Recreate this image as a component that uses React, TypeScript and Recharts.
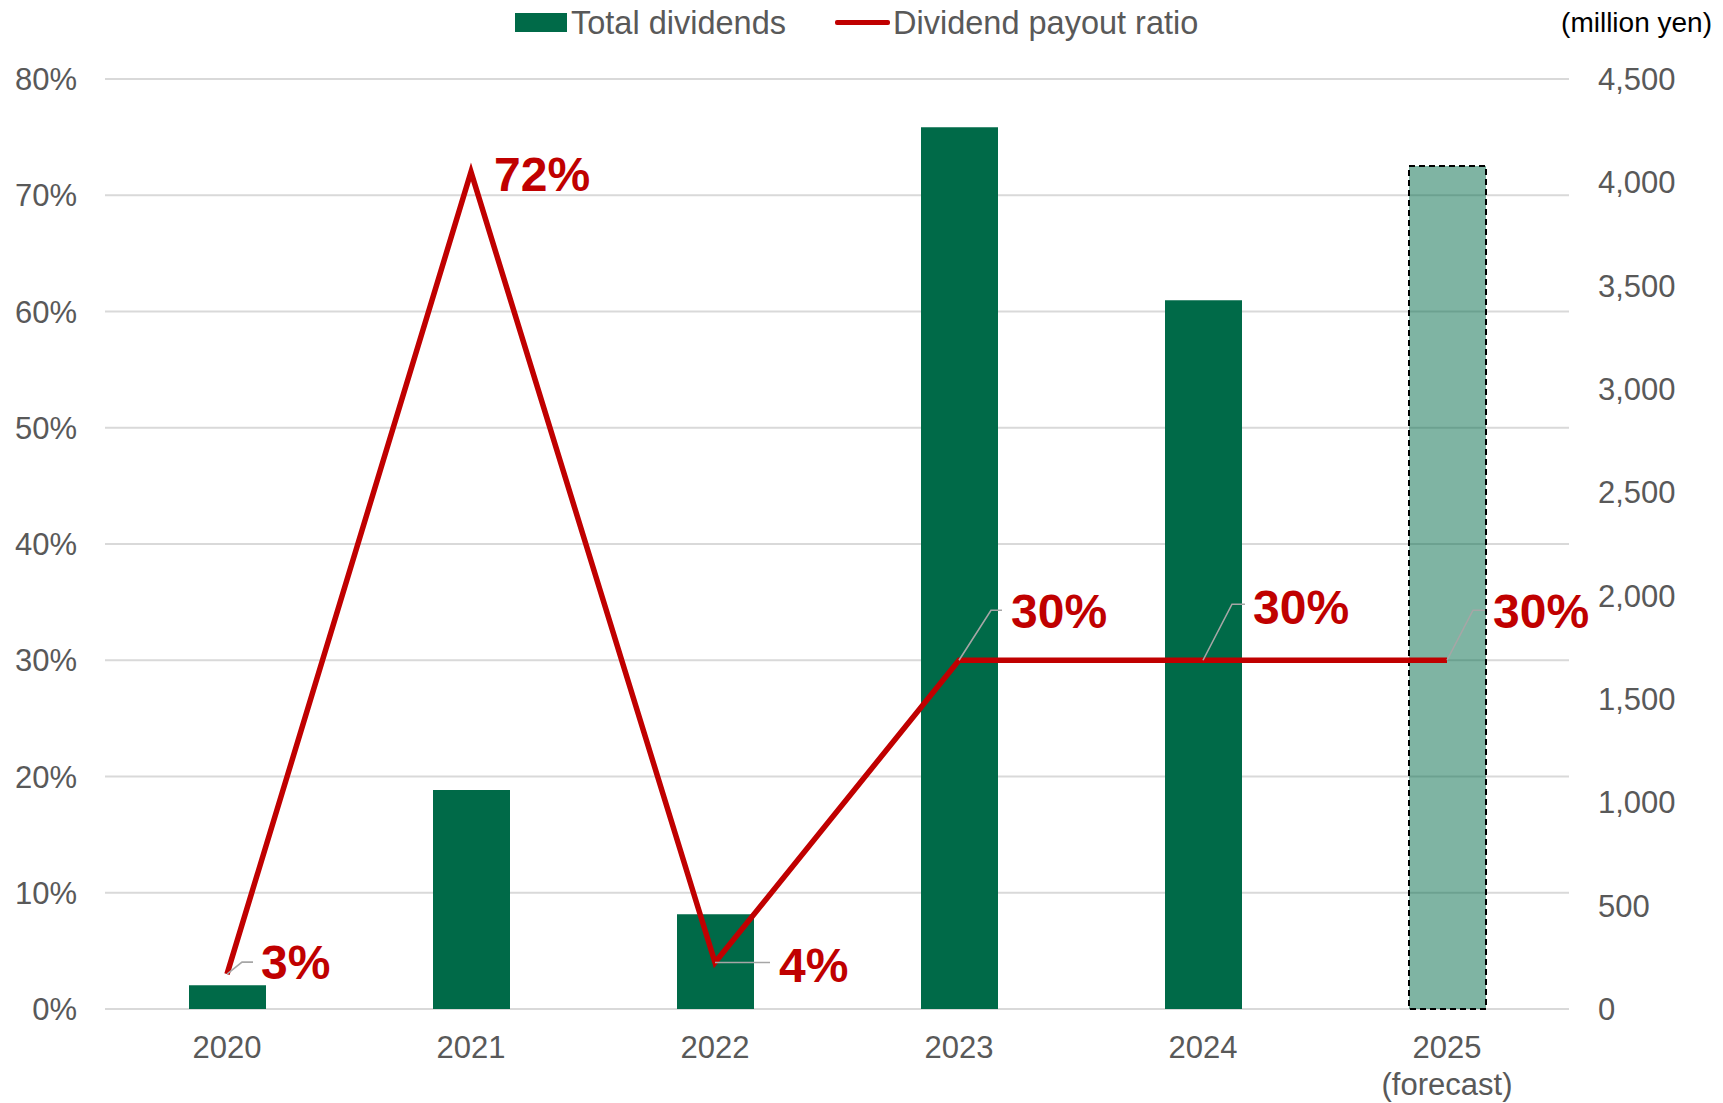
import React from 'react';
import { ComposedChart, Bar, Line, XAxis, YAxis, CartesianGrid, Legend, Cell, LabelList } from 'recharts';

const categories = ['2020', '2021', '2022', '2023', '2024', '2025\n(forecast)'];
const totalDividends = [115, 1060, 458, 4266, 3429, 4079];
const payoutRatio = [3, 72, 4, 30, 30, 30];
const isForecast = [false, false, false, false, false, true];
const leftTicks = [0, 10, 20, 30, 40, 50, 60, 70, 80];
const rightTicks = [0, 500, 1000, 1500, 2000, 2500, 3000, 3500, 4000, 4500];

const data = categories.map((c, i) => ({
  year: c,
  dividends: totalDividends[i],
  ratio: payoutRatio[i],
  forecast: isForecast[i],
}));

const FONT = '"Liberation Sans", Arial, sans-serif';
const GREEN = '#006A48';
const RED = '#C00000';
const GRAY_TEXT = '#595959';

// leader line / label placement relative to each point (styling)
const labelStyle = [
  { pts: [[0, 0], [15, -12], [26, -12]], dx: 34, dy: -12 },
  { pts: [], dx: 23, dy: 1.5 },
  { pts: [[0, 0], [55, 0]], dx: 64, dy: 2 },
  { pts: [[0, 0], [32, -50], [43, -50]], dx: 52, dy: -50 },
  { pts: [[0, 0], [29, -56], [42, -56]], dx: 50, dy: -54 },
  { pts: [[0, 0], [26, -50], [38, -50]], dx: 46, dy: -50 },
];

const RatioLabel = (props: any) => {
  const { x, y, value, index } = props;
  const s = labelStyle[index] || { pts: [], dx: 10, dy: 0 };
  const path = s.pts.length
    ? s.pts.map((p: number[], i: number) => `${i === 0 ? 'M' : 'L'}${x + p[0]},${y + p[1]}`).join(' ')
    : '';
  const fs = 48;
  return (
    <g>
      {path && <path d={path} stroke="#A6A6A6" strokeWidth={1.6} fill="none" />}
      <text
        x={x + s.dx}
        y={y + s.dy + fs * 0.36}
        fill={RED}
        fontSize={fs}
        fontWeight="bold"
        fontFamily={FONT}
      >
        {`${value}%`}
      </text>
    </g>
  );
};

const XTick = (props: any) => {
  const { x, y, payload } = props;
  const lines = String(payload.value).split('\n');
  return (
    <g>
      {lines.map((l, i) => (
        <text
          key={i}
          x={x}
          y={y + 38 + i * 37 + 11}
          textAnchor="middle"
          fill={GRAY_TEXT}
          fontSize={31}
          fontFamily={FONT}
        >
          {l}
        </text>
      ))}
    </g>
  );
};

const LegendContent = () => (
  <div style={{ position: 'relative', width: 1723, height: 44, fontFamily: FONT, fontSize: 32.5, color: GRAY_TEXT }}>
    <span style={{ position: 'absolute', left: 515, top: 13, width: 52, height: 19, background: GREEN }} />
    <span style={{ position: 'absolute', left: 571, top: 1, lineHeight: '44px', whiteSpace: 'nowrap' }}>Total dividends</span>
    <span style={{ position: 'absolute', left: 835, top: 20, width: 55, height: 5, background: RED, borderRadius: 2 }} />
    <span style={{ position: 'absolute', left: 893, top: 1, lineHeight: '44px', whiteSpace: 'nowrap' }}>Dividend payout ratio</span>
  </div>
);

const UnitLabel = (props: any) => {
  const vb = props.viewBox || {};
  return (
    <text x={1712} y={vb.y - 57 + 10} textAnchor="end" fill="#000000" fontSize={28} fontFamily={FONT}>
      (million yen)
    </text>
  );
};

export default function App() {
  return (
    <div style={{ position: 'absolute', left: 0, top: 0, background: '#fff' }}>
      <ComposedChart
        width={1723}
        height={1103}
        data={data}
        margin={{ top: 79, right: 10, bottom: 10, left: 10 }}
        barSize={77}
      >
        <CartesianGrid yAxisId="left" vertical={false} stroke="#D9D9D9" strokeWidth={2} />
        <XAxis
          dataKey="year"
          axisLine={false}
          tickLine={false}
          tickSize={0}
          tickMargin={0}
          height={84}
          tick={<XTick />}
          interval={0}
        />
        <YAxis
          yAxisId="left"
          orientation="left"
          width={95}
          domain={[0, 80]}
          ticks={leftTicks}
          tickFormatter={(v: number) => `${v}%`}
          axisLine={false}
          tickLine={false}
          tickSize={0}
          tickMargin={28}
          tick={{ fill: GRAY_TEXT, fontSize: 31, fontFamily: FONT }}
        />
        <YAxis
          yAxisId="right"
          orientation="right"
          width={144}
          domain={[0, 4500]}
          ticks={rightTicks}
          tickFormatter={(v: number) => v.toLocaleString('en-US')}
          axisLine={false}
          tickLine={false}
          tickSize={0}
          tickMargin={29}
          tick={{ fill: GRAY_TEXT, fontSize: 31, fontFamily: FONT, textAnchor: 'start' }}
          label={<UnitLabel />}
        />
        <Legend
          layout="horizontal"
          verticalAlign="middle"
          align="center"
          content={<LegendContent />}
          wrapperStyle={{ top: 0, left: 0, width: 1723, height: 44 }}
        />
        <Bar yAxisId="right" dataKey="dividends" name="Total dividends" fill={GREEN} isAnimationActive={false}>
          {data.map((d, i) => (
            <Cell
              key={i}
              fill={GREEN}
              fillOpacity={d.forecast ? 0.5 : 1}
              stroke={d.forecast ? '#000000' : 'none'}
              strokeWidth={d.forecast ? 2 : 0}
              strokeDasharray={d.forecast ? '6 4' : undefined}
            />
          ))}
        </Bar>
        <Line
          yAxisId="left"
          dataKey="ratio"
          name="Dividend payout ratio"
          stroke={RED}
          strokeWidth={5.5}
          dot={false}
          activeDot={false}
          isAnimationActive={false}
        >
          <LabelList dataKey="ratio" content={<RatioLabel />} />
        </Line>
      </ComposedChart>
    </div>
  );
}
